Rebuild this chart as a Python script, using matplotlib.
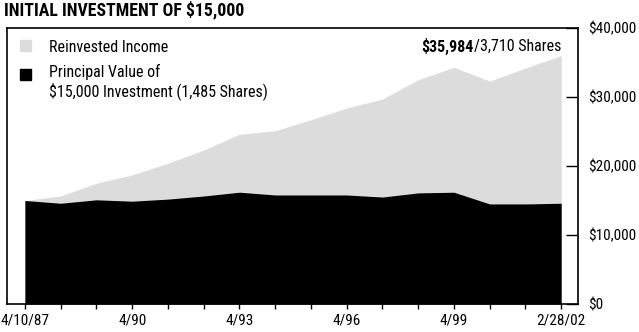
import matplotlib
matplotlib.use('Agg')
import matplotlib.pyplot as plt

plt.rcParams['font.family'] = ['Roboto Condensed', 'DejaVu Sans']

# yearly checkpoints, 4/10/87 through 2/28/02
periods = list(range(16))
tick_labels = ['4/10/87', '', '', '4/90', '', '', '4/93', '', '',
               '4/96', '', '', '4/99', '', '', '2/28/02']
total_value = [15000, 15650, 17500, 18700, 20400, 22300, 24600, 25100,
               26700, 28400, 29700, 32500, 34300, 32300, 34200, 35984]
principal_value = [15000, 14600, 15100, 14900, 15200, 15650, 16200, 15800,
                   15800, 15800, 15500, 16100, 16200, 14500, 14500, 14600]
y_ticks = [0, 10000, 20000, 30000, 40000]
y_labels = ['$0', '$10,000', '$20,000', '$30,000', '$40,000']

fig = plt.figure(figsize=(6.39, 3.32), dpi=100)
ax = fig.add_axes([7 / 639, 28 / 332, 571 / 639, 276 / 332])

ax.fill_between(periods, 0, total_value, color='#dcdcdc', lw=0)
ax.fill_between(periods, 0, principal_value, color='black', lw=0)

ax.set_xlim(-0.5, 15.47)
ax.set_ylim(0, 40000)
for s in ax.spines.values():
    s.set_linewidth(1.2)

ax.set_xticks(periods)
ax.set_xticklabels(tick_labels, fontsize=11)
ax.tick_params(axis='x', direction='out', length=3.5, width=1, pad=3.5)

ax.yaxis.tick_right()
ax.set_yticks(y_ticks)
ax.set_yticklabels(y_labels, fontsize=11)
ax.tick_params(axis='y', direction='in', length=9, width=1, pad=7)

fig.text(4 / 639, 1 - 10 / 332, 'INITIAL INVESTMENT OF $15,000', fontsize=12.8,
         fontweight='black', va='center', ha='left')

# legend
fig.patches.append(plt.Rectangle((20 / 639, 1 - 51 / 332), 11 / 639, 11 / 332,
                                 transform=fig.transFigure, color='#dcdcdc'))
fig.patches.append(plt.Rectangle((20 / 639, 1 - 80 / 332), 11 / 639, 11 / 332,
                                 transform=fig.transFigure, color='black'))
fig.text(49 / 639, 1 - 47 / 332, 'Reinvested Income', fontsize=11.5, va='center')
fig.text(49 / 639, 1 - 72 / 332, 'Principal Value of', fontsize=11.5, va='center')
fig.text(49 / 639, 1 - 91 / 332, '$15,000 Investment (1,485 Shares)',
         fontsize=11.5, va='center')

# end value callout
shares = fig.text(561 / 639, 1 - 46 / 332, '/3,710 Shares', fontsize=11.5,
                  va='center', ha='right')
fig.canvas.draw()
bb = shares.get_window_extent()
fig.text(bb.x0 / 639, 1 - 46 / 332, '$35,984', fontsize=11.5, fontweight='bold',
         va='center', ha='right')

fig.savefig('out.png', dpi=100)
